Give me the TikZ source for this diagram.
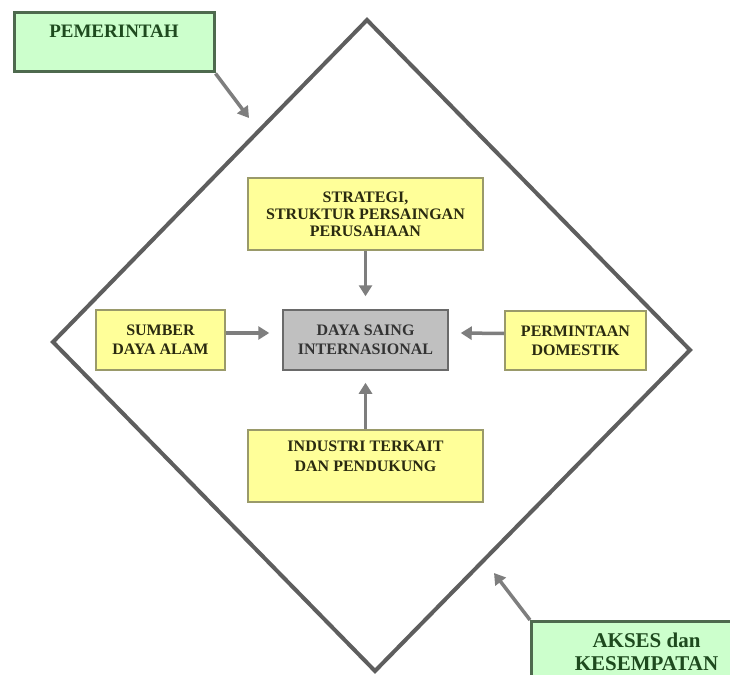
\documentclass[tikz,border=0pt]{standalone}
\usepackage{fontspec}
\setmainfont{Liberation Serif}
\usetikzlibrary{arrows.meta}
\definecolor{yfill}{HTML}{FFFF99}
\definecolor{ydraw}{HTML}{9A9A6A}
\definecolor{gfill}{HTML}{CCFFCC}
\definecolor{gdraw}{HTML}{4E6A4E}
\definecolor{gtext}{HTML}{1E4A1E}
\definecolor{ytext}{HTML}{2A2A10}
\definecolor{cfill}{HTML}{C0C0C0}
\definecolor{cdraw}{HTML}{6A6A6A}
\definecolor{lgray}{HTML}{5E5E5E}
\definecolor{agray}{HTML}{7E7E7E}
\tikzset{
  ybox/.style={draw=ydraw, fill=yfill, line width=1.5pt, align=center, text=ytext,
    font=\bfseries\fontsize{16}{17}\selectfont, inner sep=0pt},
  cbox/.style={draw=cdraw, fill=cfill, line width=1.5pt, align=center, text=black!80,
    font=\bfseries\fontsize{16}{19}\selectfont, inner sep=0pt},
  gbox/.style={draw=gdraw, fill=gfill, line width=3pt, align=center, text=gtext,
    font=\bfseries\fontsize{19}{22}\selectfont, inner sep=0pt},
  conn/.style={draw=agray, line width=3.5pt, -{Triangle[length=11pt,width=13pt]}},
  frame/.style={draw=lgray, line width=4pt, line join=miter},
}
\begin{document}
\begin{tikzpicture}[x=1pt,y=-1pt]
\useasboundingbox (0,0) rectangle (730,674);
\clip (0,0) rectangle (730,674);
\fill[white] (0,0) rectangle (730,674);
% diamond
\coordinate (dt) at (367,20);
\coordinate (dr) at (690,350);
\coordinate (db) at (375,671);
\coordinate (dl) at (53,342);
\draw[frame] (dt) -- (dr) -- (db) -- (dl) -- cycle;
% boxes
\node[ybox, minimum width=235pt, minimum height=72pt] (strat) at (365.5,214)
  {STRATEGI,\\STRUKTUR PERSAINGAN\\PERUSAHAAN};
\node[cbox, minimum width=165pt, minimum height=60pt] (daya) at (365.5,340)
  {DAYA SAING\\INTERNASIONAL};
\node[ybox, minimum width=129pt, minimum height=60pt, font=\bfseries\fontsize{16}{19}\selectfont] (sumber) at (160.5,340)
  {SUMBER\\DAYA ALAM};
\node[ybox, minimum width=141pt, minimum height=59pt, font=\bfseries\fontsize{16}{19}\selectfont] (minta) at (575.5,340.5)
  {PERMINTAAN\\DOMESTIK};
\node[ybox, minimum width=235pt, minimum height=72pt, font=\bfseries\fontsize{16}{20}\selectfont] (industri) at (365.5,466)
  {INDUSTRI TERKAIT\\DAN PENDUKUNG\\\mbox{}};
\node[gbox, minimum width=200pt, minimum height=59pt] (pem) at (114,42.5)
  {PEMERINTAH\\\mbox{}};
\node[gbox, minimum width=230pt, minimum height=60pt, anchor=north west, font=\bfseries\fontsize{21}{23}\selectfont] (akses) at (530,620)
  {AKSES dan\\KESEMPATAN};
% connectors
\coordinate (pemtip) at (249,118);
\coordinate (aktip) at (494,573);
\draw[conn] (strat.south) -- ([yshift=13pt]daya.north);
\draw[conn] (industri.north) -- ([yshift=-12pt]daya.south);
\draw[conn] ([yshift=7pt]sumber.east) -- ([yshift=7pt,xshift=-13pt]daya.west);
\draw[conn] ([yshift=7pt]minta.west) -- ([yshift=7pt,xshift=12pt]daya.east);
\draw[conn] (pem.south east) -- (pemtip);
\draw[conn] (akses.north west) -- (aktip);
\end{tikzpicture}
\end{document}
